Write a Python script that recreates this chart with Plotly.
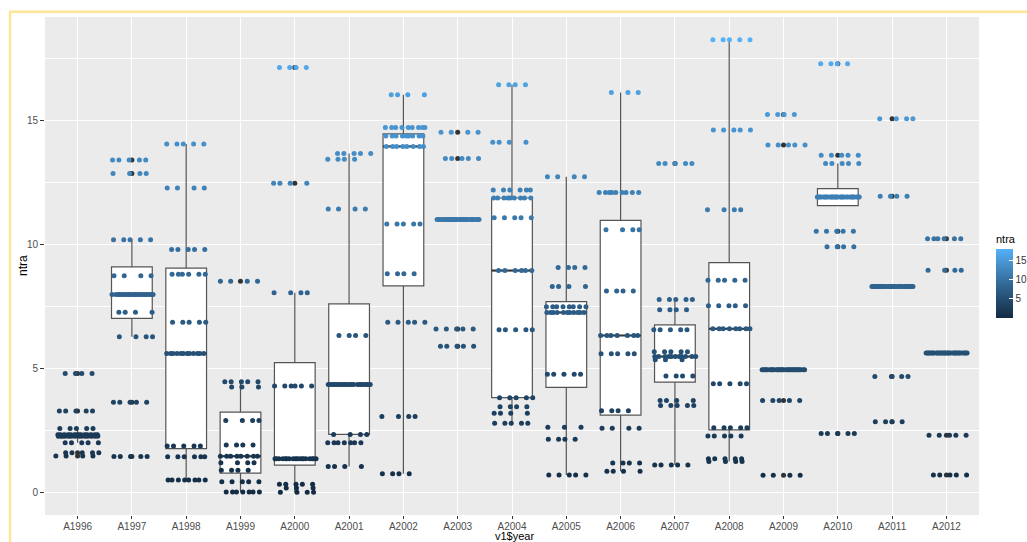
import numpy as np
import plotly.graph_objects as go

# Survey years shown on the x axis
years = ["A1996", "A1997", "A1998", "A1999", "A2000", "A2001", "A2002", "A2003",
         "A2004", "A2005", "A2006", "A2007", "A2008", "A2009", "A2010", "A2011", "A2012"]

# Distinct ntra levels observed in each year ...
row_values = [
    [1.47, 1.60, 2.00, 2.27, 2.32, 2.58, 3.28, 4.80],
    [1.45, 3.64, 6.28, 7.27, 7.98, 8.74, 10.19, 12.87, 13.41],
    [0.50, 1.44, 1.87, 5.60, 6.87, 8.80, 9.80, 12.28, 14.06],
    [0.01, 0.43, 0.89, 1.20, 1.46, 1.91, 2.90, 4.25, 4.46, 8.52],
    [0.00, 0.18, 0.33, 1.36, 4.29, 8.06, 12.47, 17.15],
    [1.04, 2.00, 2.34, 4.35, 6.33, 11.44, 13.44, 13.68],
    [0.75, 3.06, 6.87, 8.82, 10.83, 13.96, 14.38, 14.72, 16.05],
    [5.90, 6.59, 11.01, 13.47, 14.53],
    [2.79, 3.19, 3.46, 3.82, 6.56, 8.95, 11.08, 11.88, 12.20, 14.13, 16.45],
    [0.70, 2.14, 2.63, 4.77, 7.26, 7.49, 8.31, 9.07, 12.74],
    [0.85, 1.18, 2.59, 3.29, 5.59, 6.33, 8.13, 10.60, 12.10, 16.14],
    [1.10, 3.51, 3.71, 4.70, 5.35, 5.48, 5.67, 6.56, 7.37, 7.78, 13.27],
    [1.25, 1.36, 2.27, 2.61, 4.38, 6.60, 7.53, 8.56, 11.41, 14.62, 18.27],
    [0.69, 3.71, 4.95, 14.02, 15.25],
    [2.38, 9.91, 10.54, 11.92, 13.27, 13.60, 17.30],
    [2.85, 4.68, 8.31, 11.95, 15.08],
    [0.70, 2.30, 5.62, 8.96, 10.23],
]

# ... and how many observations share each level
row_counts = [
    [4, 5, 5, 14, 14, 5, 5, 4],
    [5, 5, 4, 4, 20, 4, 5, 4, 5],
    [8, 6, 5, 12, 5, 6, 5, 4, 5],
    [7, 5, 4, 4, 8, 4, 4, 3, 5, 4],
    [4, 3, 5, 18, 6, 4, 4, 4],
    [4, 7, 4, 20, 4, 4, 4, 5],
    [4, 4, 5, 4, 5, 8, 9, 9, 4],
    [5, 5, 30, 5, 4],
    [5, 4, 4, 5, 5, 6, 5, 9, 6, 4, 4],
    [5, 4, 3, 5, 11, 8, 4, 4, 4],
    [4, 4, 4, 4, 5, 7, 4, 4, 9, 3],
    [5, 5, 4, 4, 3, 11, 5, 5, 4, 5, 5],
    [4, 5, 5, 5, 5, 8, 5, 5, 4, 5, 5],
    [4, 5, 30, 5, 4],
    [5, 4, 5, 28, 5, 5, 4],
    [4, 4, 30, 4, 4],
    [5, 5, 30, 4, 6],
]

FONT = "Liberation Sans, Arial, sans-serif"
BOX_W = 0.75
JITTER_W = 0.4
LOW, HIGH = "#132B43", "#56B1F7"
colorscale = [[0.0, LOW], [0.25, "#22496C"], [0.5, "#336A98"],
              [0.75, "#448DC6"], [1.0, HIGH]]


def jitter_offsets(n, phase):
    # deterministic low-discrepancy spread across the jitter width
    k = np.arange(n)
    return ((k * 0.6180339887 + phase) % 1.0 - 0.5) * 2 * JITTER_W


samples = []
for vals, cnts in zip(row_values, row_counts):
    samples.append(np.repeat(np.array(vals, float), cnts))

all_vals = np.concatenate(samples)
vmin, vmax = float(all_vals.min()), float(all_vals.max())
span = vmax - vmin

# Tukey box statistics (R type-7 quantiles)
q1s, meds, q3s, lows, highs = [], [], [], [], []
out_x, out_y = [], []
for i, s in enumerate(samples):
    q1, med, q3 = np.percentile(s, [25, 50, 75])
    iqr = q3 - q1
    inside = s[(s >= q1 - 1.5 * iqr) & (s <= q3 + 1.5 * iqr)]
    lo = min(inside.min(), q1)
    hi = max(inside.max(), q3)
    q1s.append(q1); meds.append(med); q3s.append(q3); lows.append(lo); highs.append(hi)
    for v in np.unique(s[(s < q1 - 1.5 * iqr) | (s > q3 + 1.5 * iqr)]):
        out_x.append(i); out_y.append(v)

pos = list(range(len(years)))

fig = go.Figure()

fig.add_trace(go.Box(
    x=pos, q1=q1s, median=meds, q3=q3s, lowerfence=lows, upperfence=highs,
    width=BOX_W, whiskerwidth=0, fillcolor="white",
    line=dict(color="#555555", width=1.2), boxpoints=False, hoverinfo="skip",
))

# thicker median bars
mx, my = [], []
for i, m in enumerate(meds):
    mx += [i - BOX_W / 2, i + BOX_W / 2, None]
    my += [m, m, None]
fig.add_trace(go.Scatter(x=mx, y=my, mode="lines",
                         line=dict(color="#333333", width=2), hoverinfo="skip"))

# outliers flagged by the boxplot
fig.add_trace(go.Scatter(x=out_x, y=out_y, mode="markers",
                         marker=dict(color="#333333", size=5), hoverinfo="skip"))

# jittered observations coloured by ntra
jx, jy = [], []
for i, (vals, cnts) in enumerate(zip(row_values, row_counts)):
    for r, (v, c) in enumerate(zip(vals, cnts)):
        phase = (r * 0.371 + i * 0.233) % 1.0
        jx.extend(i + jitter_offsets(c, phase))
        jy.extend([v] * c)

L, R, T, B = 45, 48, 17, 27
W, H = 1027, 542
pw, ph = W - L - R, H - T - B


def px_x(p):
    return (p - L) / pw


def px_y(p):
    return (H - B - p) / ph


fig.add_trace(go.Scatter(
    x=jx, y=jy, mode="markers",
    marker=dict(
        size=5, color=jy, colorscale=colorscale, cmin=vmin, cmax=vmax,
        showscale=True,
        colorbar=dict(
            title=dict(text="ntra", side="top", font=dict(size=11, color="#000000")),
            thickness=17, thicknessmode="pixels",
            len=86, lenmode="pixels",
            x=px_x(996), xanchor="left", xpad=0,
            y=px_y(274.5), yanchor="middle", ypad=0,
            outlinewidth=0,
            tickvals=[5, 10, 15], ticks="inside", ticklen=4, tickcolor="white",
            tickfont=dict(size=10, color="#333333"),
        ),
    ),
    hoverinfo="skip",
))

fig.update_layout(
    width=W, height=H,
    margin=dict(l=L, r=R, t=T, b=B, pad=0, autoexpand=False),
    paper_bgcolor="white", plot_bgcolor="#EBEBEB",
    showlegend=False,
    font=dict(family=FONT, size=10, color="#4D4D4D"),
    xaxis=dict(
        range=[-0.6, len(years) - 0.4], tickmode="array", tickvals=pos, ticktext=years,
        showgrid=True, gridcolor="white", gridwidth=1.1, zeroline=False,
        ticks="outside", ticklen=3, tickcolor="#333333", tickwidth=1,
        ticklabelstandoff=-1,
        tickfont=dict(size=10, color="#4D4D4D"),
        showline=False, fixedrange=True, automargin=False,
    ),
    yaxis=dict(
        range=[vmin - 0.05 * span, vmax + 0.05 * span],
        tickmode="array", tickvals=[0, 5, 10, 15],
        showgrid=True, gridcolor="white", gridwidth=1.1, zeroline=False,
        minor=dict(tickmode="array", tickvals=[2.5, 7.5, 12.5, 17.5],
                   showgrid=True, gridcolor="white", gridwidth=0.5, ticks=""),
        ticks="outside", ticklen=4, tickcolor="#333333", tickwidth=1,
        tickfont=dict(size=10, color="#4D4D4D"),
        showline=False, fixedrange=True, automargin=False,
    ),
)

# axis titles
fig.add_annotation(text="v1$year", xref="paper", yref="paper",
                   x=px_x(514), y=px_y(542.5), xanchor="center", yanchor="bottom",
                   showarrow=False, borderpad=0, font=dict(size=11, color="#000000"))
fig.add_annotation(text="ntra", xref="paper", yref="paper",
                   x=px_x(23), y=px_y(266), xanchor="center", yanchor="middle",
                   textangle=-90, showarrow=False, font=dict(size=12, color="#000000"))

# light frame around the graphic
frame_col = "#FDE59A"
top_y = px_y(11.7)
fig.add_shape(type="line", xref="paper", yref="paper",
              x0=px_x(9), x1=px_x(W + 5), y0=top_y, y1=top_y,
              line=dict(color=frame_col, width=2.5))
fig.add_shape(type="line", xref="paper", yref="paper",
              x0=px_x(10), x1=px_x(10), y0=top_y, y1=px_y(H + 5),
              line=dict(color=frame_col, width=2.5))

fig.write_html("out.html")
